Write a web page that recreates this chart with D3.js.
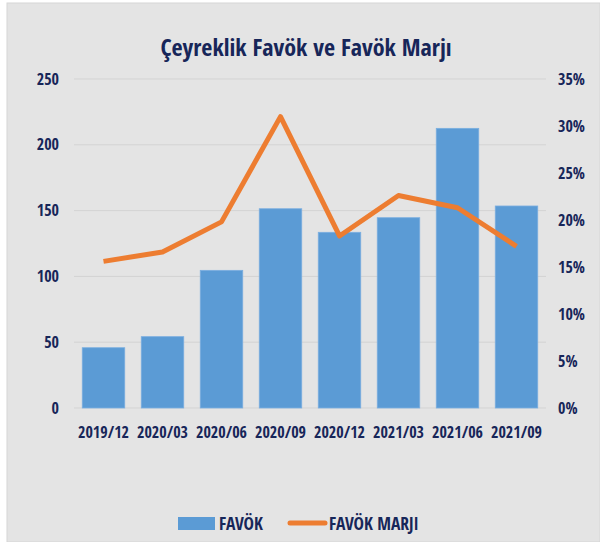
<!DOCTYPE html>
<html lang="en">
<head>
    <meta charset="UTF-8">
    <title>Çeyreklik Favök ve Favök Marjı</title>
    <script src="https://d3js.org/d3.v7.min.js"></script>
    <style>
        body { margin: 0; background: #fff; }
        text { font-family: "Open Sans Condensed", "Roboto Condensed", sans-serif; font-weight: bold; fill: #172659; }
    </style>
</head>
<body>
    <svg width="600" height="542"></svg>

    <script>
        // data
        const periods = ['2019/12', '2020/03', '2020/06', '2020/09', '2020/12', '2021/03', '2021/06', '2021/09'];
        const favok = [45.8, 54.2, 104.6, 151.4, 133.5, 144.6, 212.5, 153.5];
        const favokMarji = [15.6, 16.6, 19.8, 31.0, 18.3, 22.6, 21.3, 17.2];
        const leftTicks = [0, 50, 100, 150, 200, 250];
        const rightTicks = [0, 5, 10, 15, 20, 25, 30, 35];

        const svg = d3.select('svg');

        // panel background
        svg.append('rect')
            .attr('x', 7).attr('y', 3)
            .attr('width', 593).attr('height', 539)
            .attr('fill', '#e4e4e4')
            .attr('stroke', '#d6d6d6');

        const plotLeft = 74, plotRight = 546, plotTop = 79, plotBottom = 408;

        const x = d3.scaleBand().domain(periods).range([plotLeft, plotRight]).paddingInner(0.28).paddingOuter(0.14);
        const y = d3.scaleLinear().domain([0, 250]).range([plotBottom, plotTop]);
        const y2 = d3.scaleLinear().domain([0, 35]).range([plotBottom, plotTop]);

        // gridlines
        svg.append('g')
            .selectAll('line')
            .data(leftTicks)
            .join('line')
            .attr('x1', plotLeft).attr('x2', plotRight)
            .attr('y1', d => y(d)).attr('y2', d => y(d))
            .attr('stroke', '#d3d3d3')
            .attr('stroke-width', 1);

        // left axis
        const yAxis = svg.append('g')
            .attr('transform', `translate(${plotLeft - 15},0)`)
            .call(d3.axisLeft(y).tickValues(leftTicks).tickSize(0).tickPadding(0));
        yAxis.select('.domain').remove();
        yAxis.selectAll('text').attr('font-size', 16);

        // right axis
        const y2Axis = svg.append('g')
            .attr('transform', `translate(${plotRight + 12},0)`)
            .call(d3.axisRight(y2).tickValues(rightTicks).tickFormat(d => d + '%').tickSize(0).tickPadding(0));
        y2Axis.select('.domain').remove();
        y2Axis.selectAll('text').attr('font-size', 16);

        // x axis
        const xAxis = svg.append('g')
            .attr('transform', `translate(0,${plotBottom + 19})`)
            .call(d3.axisBottom(x).tickSize(0).tickPadding(0));
        xAxis.select('.domain').remove();
        xAxis.selectAll('text').attr('font-size', 16);

        svg.selectAll('.tick text').attr('fill', '#172659');

        // bars
        svg.append('g')
            .selectAll('rect')
            .data(favok)
            .join('rect')
            .attr('x', (d, i) => x(periods[i]))
            .attr('y', d => y(d))
            .attr('width', x.bandwidth())
            .attr('height', d => y(0) - y(d))
            .attr('fill', '#5b9bd5')
            .attr('stroke', '#7aaee0')
            .attr('stroke-width', 0.8);

        // margin line
        const line = d3.line()
            .x((d, i) => x(periods[i]) + x.bandwidth() / 2)
            .y(d => y2(d));

        svg.append('path')
            .datum(favokMarji)
            .attr('d', line)
            .attr('fill', 'none')
            .attr('stroke', '#ed7d31')
            .attr('stroke-width', 5)
            .attr('stroke-linejoin', 'round');

        // title
        svg.append('text')
            .attr('x', 306).attr('y', 56)
            .attr('text-anchor', 'middle')
            .attr('font-size', 24)
            .text('Çeyreklik Favök ve Favök Marjı');

        // legend
        const legend = svg.append('g');
        legend.append('rect')
            .attr('x', 178).attr('y', 517)
            .attr('width', 37).attr('height', 13)
            .attr('fill', '#5b9bd5');
        legend.append('text')
            .attr('x', 219).attr('y', 529.5)
            .attr('font-size', 17.5)
            .text('FAVÖK');
        legend.append('line')
            .attr('x1', 290).attr('x2', 325)
            .attr('y1', 523).attr('y2', 523)
            .attr('stroke', '#ed7d31')
            .attr('stroke-width', 5)
            .attr('stroke-linecap', 'round');
        legend.append('text')
            .attr('x', 329).attr('y', 529.5)
            .attr('font-size', 17.5)
            .text('FAVÖK MARJI');
    </script>
</body>
</html>
